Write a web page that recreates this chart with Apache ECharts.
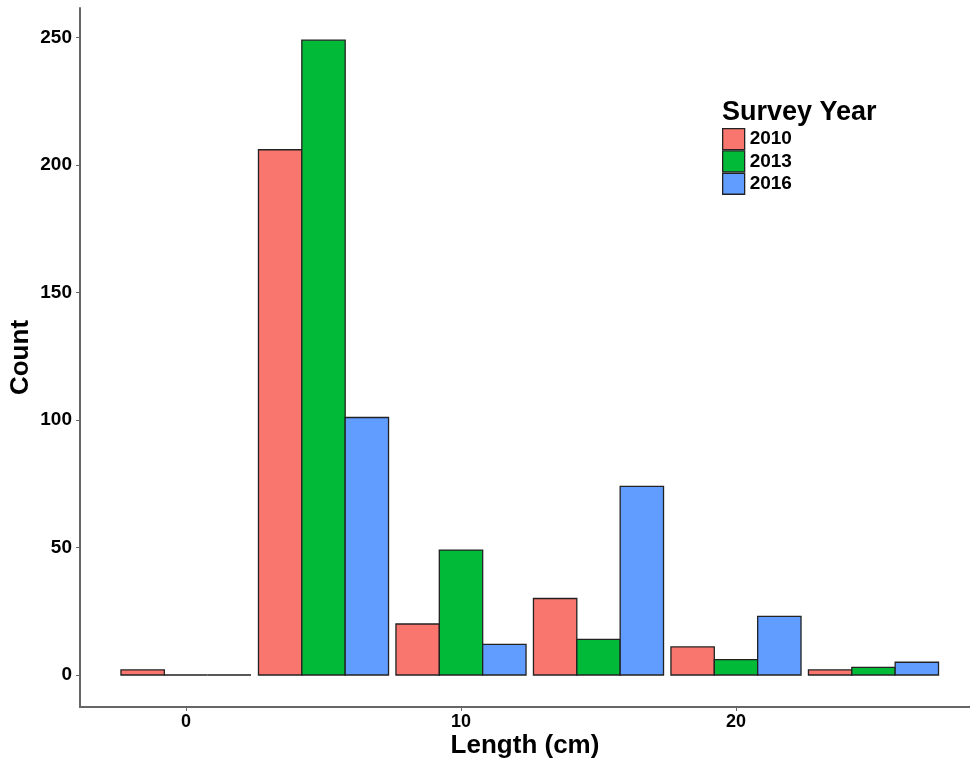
<!DOCTYPE html>
<html>
<head>
<meta charset="utf-8">
<script src="https://cdn.jsdelivr.net/npm/echarts@6/dist/echarts.min.js"></script>
<style>html,body{margin:0;padding:0;background:#fff}#chart{width:970px;height:760px}</style>
</head>
<body>
<div id="chart"></div>
<script>
const binCenters = [0, 5, 10, 15, 20, 25];
const years = ['2010', '2013', '2016'];
const counts2010 = [2, 206, 20, 30, 11, 2];
const counts2013 = [0, 249, 49, 14, 6, 3];
const counts2016 = [0, 101, 12, 74, 23, 5];
const xTicks = [0, 10, 20];
const yTicks = [0, 50, 100, 150, 200, 250];
const colors = ['#F8766D', '#00BA38', '#619CFF'];

const groupWidth = 4.73;
const font = '"Liberation Sans", Arial, sans-serif';
const allCounts = [counts2010, counts2013, counts2016];

function makeSeries(idx) {
  return {
    name: years[idx],
    type: 'custom',
    itemStyle: { color: colors[idx], borderColor: '#222', borderWidth: 1.3 },
    data: binCenters.map((c, i) => [c, allCounts[idx][i]]),
    renderItem: function (params, api) {
      const c = api.value(0), v = api.value(1);
      const x0 = c - groupWidth / 2 + idx * groupWidth / 3;
      const x1 = x0 + groupWidth / 3;
      const p0 = api.coord([x0, v]);
      const p1 = api.coord([x1, 0]);
      return {
        type: 'rect',
        shape: { x: p0[0], y: p0[1], width: p1[0] - p0[0], height: p1[1] - p0[1] },
        style: api.style()
      };
    }
  };
}

const chart = echarts.init(document.getElementById('chart'), null, { renderer: 'canvas' });
chart.setOption({
  animation: false,
  backgroundColor: '#fff',
  color: colors,
  grid: { left: 80, right: 0, top: 8, bottom: 53, containLabel: false, outerBoundsMode: 'none' },
  xAxis: {
    type: 'value',
    min: -3.855, max: 28.51,
    name: 'Length (cm)',
    nameLocation: 'middle',
    nameGap: 26,
    nameMoveOverlap: false,
    nameTextStyle: { fontFamily: font, fontWeight: 'bold', fontSize: 26, color: '#000' },
    axisLine: { onZero: false, lineStyle: { color: '#666', width: 2 } },
    axisTick: { show: true, length: 4, lineStyle: { color: '#666', width: 1 }, customValues: xTicks },
    axisLabel: { customValues: xTicks, margin: 6, fontFamily: font, fontWeight: 'bold', fontSize: 18, color: '#000' },
    splitLine: { show: false }
  },
  yAxis: {
    type: 'value',
    min: -12.55, max: 261.6,
    name: 'Count',
    nameLocation: 'middle',
    nameGap: 46,
    nameMoveOverlap: false,
    nameTextStyle: { fontFamily: font, fontWeight: 'bold', fontSize: 26, color: '#000' },
    axisLine: { onZero: false, lineStyle: { color: '#666', width: 2 } },
    axisTick: { show: true, length: 4, lineStyle: { color: '#666', width: 1 }, customValues: yTicks },
    axisLabel: { customValues: yTicks, margin: 8, fontFamily: font, fontWeight: 'bold', fontSize: 19, color: '#000' },
    splitLine: { show: false }
  },
  legend: {
    data: years.map(y => ({ name: y, icon: 'rect' })),
    orient: 'vertical',
    left: 722, top: 128,
    padding: 0,
    itemGap: 0,
    itemWidth: 22, itemHeight: 21,
    itemStyle: { borderColor: '#222', borderWidth: 1.3 },
    textStyle: { fontFamily: font, fontWeight: 'bold', fontSize: 19, color: '#000' },
    selectedMode: false
  },
  graphic: [{
    type: 'text',
    left: 722, top: 99,
    style: { text: 'Survey Year', font: 'bold 27px ' + font, fill: '#000' }
  }],
  series: [makeSeries(0), makeSeries(1), makeSeries(2)]
});
</script>
</body>
</html>
